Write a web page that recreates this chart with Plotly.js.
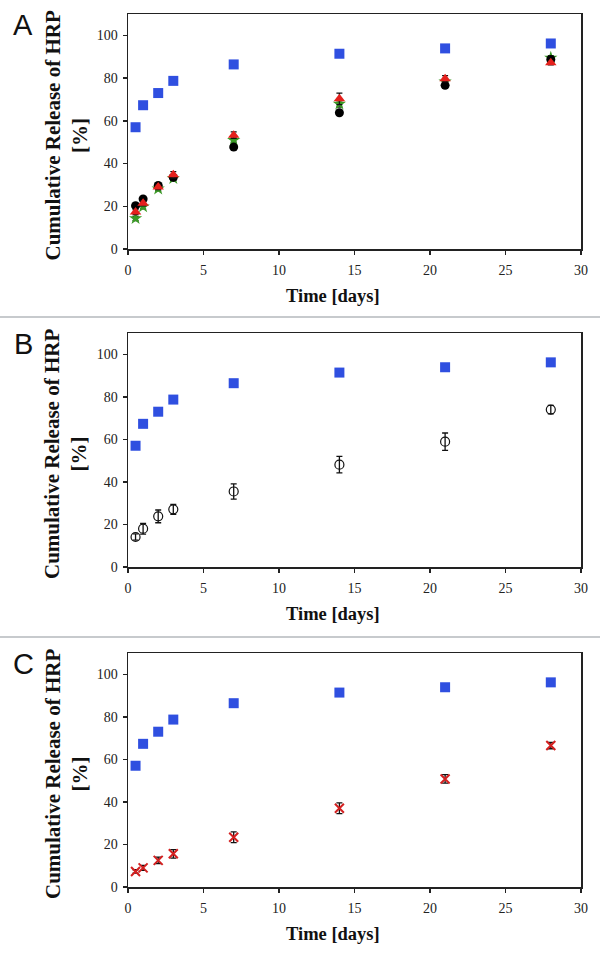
<!DOCTYPE html>
<html><head><meta charset="utf-8">
<script src="https://cdn.plot.ly/plotly-3.0.1.min.js"></script>
<style>html,body{margin:0;padding:0;background:#fff}#chart{width:600px;height:954px}</style>
</head><body><div id="chart"></div>
<script>
// time points (days)
const days = [0.5, 1, 2, 3, 7, 14, 21, 28];
// reference series (blue squares), shown in all panels
const refRelease = [57, 67.3, 73, 78.7, 86.4, 91.4, 93.9, 96.2];
// Panel A series
const aBlack = [20.3, 23.4, 29.7, 33.5, 47.7, 63.8, 76.6, 88.7];
const aBlackErr = [1, 1, 1, 1, 1, 1, 1, 1];
const aGreen = [14.3, 19.8, 28.2, 33.1, 51, 67.9, 78.3, 89.5];
const aGreenErr = [1, 1, 1, 1, 1, 1.5, 1, 1];
const aRed = [17.3, 21.4, 29, 34.7, 53.3, 70.3, 79.7, 87.2];
const aRedErr = [1.2, 1.2, 1.2, 1.5, 1.5, 2.7, 1.5, 1];
// Panel B series
const bOpen = [14.1, 18, 23.8, 27.1, 35.5, 48.1, 58.9, 74];
const bOpenErr = [1.5, 2.5, 3, 2.3, 3.6, 3.9, 4.1, 2];
// Panel C series
const cCross = [7.3, 9, 12.5, 15.6, 23.4, 37, 50.8, 66.5];
const cCrossErr = [0.8, 1.2, 1.5, 2, 2.5, 2.5, 2, 1.5];

const yTicks = [0, 20, 40, 60, 80, 100];
const xTicks = [0, 5, 10, 15, 20, 25, 30];
const panelLabels = ['A', 'B', 'C'];
const yTitle = 'Cumulative Release of HRP<br>[%]';
const xTitle = 'Time [days]';

const blue = '#2f4fe0';
const errBlack = (arr) => ({type: 'data', array: arr, visible: true, color: '#111', thickness: 1.3, width: 3});

function refTrace(ax) {
  return {x: days, y: refRelease, xaxis: 'x' + ax, yaxis: 'y' + ax, mode: 'markers', type: 'scatter',
    marker: {symbol: 'square', size: 10, color: blue}, showlegend: false, hoverinfo: 'x+y'};
}
const traces = [
  refTrace(''),
  {x: days, y: aGreen, error_y: errBlack(aGreenErr), mode: 'markers', type: 'scatter', xaxis: 'x', yaxis: 'y',
    marker: {symbol: 'star', size: 10, color: '#3a9a25'}, showlegend: false},
  {x: days, y: aBlack, error_y: errBlack(aBlackErr), mode: 'markers', type: 'scatter', xaxis: 'x', yaxis: 'y',
    marker: {symbol: 'circle', size: 9, color: '#000'}, showlegend: false},
  {x: days, y: aRed, error_y: errBlack(aRedErr), mode: 'markers', type: 'scatter', xaxis: 'x', yaxis: 'y',
    marker: {symbol: 'triangle-up', size: 10, color: '#e5201c'}, showlegend: false},
  refTrace('2'),
  {x: days, y: bOpen, error_y: errBlack(bOpenErr), mode: 'markers', type: 'scatter', xaxis: 'x2', yaxis: 'y2',
    marker: {symbol: 'circle-open', size: 9, color: '#111', line: {width: 1.2, color: '#111'}}, showlegend: false},
  refTrace('3'),
  {x: days, y: cCross, error_y: errBlack(cCrossErr), mode: 'markers', type: 'scatter', xaxis: 'x3', yaxis: 'y3',
    marker: {symbol: 'x-thin', size: 9, color: '#d42020', line: {width: 2, color: '#d42020'}}, showlegend: false}
];

const W = 600, H = 954;
const xL = 128, xR = 581;
const panels = [{top: 14, bot: 249}, {top: 333, bot: 567}, {top: 653, bot: 887}];
const tickFont = {family: 'Liberation Serif', size: 14, color: '#222'};
const yTitleFont = {family: 'Liberation Serif', size: 21, color: '#111'};
const xTitleFont = {family: 'Liberation Serif', size: 18.5, color: '#111'};

const layout = {
  width: W, height: H, margin: {l: 0, r: 0, t: 0, b: 0},
  paper_bgcolor: '#fff', plot_bgcolor: '#fff', showlegend: false,
  annotations: [], shapes: []
};
panels.forEach((p, i) => {
  const s = i === 0 ? '' : String(i + 1);
  layout['xaxis' + s] = {
    domain: [xL / W, xR / W], range: [0, 30], tickvals: xTicks, ticktext: xTicks.map(String),
    anchor: 'y' + s, showgrid: false, zeroline: false, showline: true, mirror: true,
    linecolor: '#222', linewidth: 1.5, ticks: 'outside', ticklen: 4, tickcolor: '#222', tickwidth: 1.5,
    tickfont: tickFont, ticklabelstandoff: 4, fixedrange: true
  };
  layout['yaxis' + s] = {
    domain: [1 - p.bot / H, 1 - p.top / H], range: [0, 110], tickvals: yTicks, ticktext: yTicks.map(String),
    anchor: 'x' + s, showgrid: false, zeroline: false, showline: true, mirror: true,
    linecolor: '#222', linewidth: 1.5, ticks: 'outside', ticklen: 4, tickcolor: '#222', tickwidth: 1.5,
    tickfont: tickFont, ticklabelstandoff: 2, fixedrange: true
  };
  // y title
  layout.annotations.push({
    xref: 'paper', yref: 'paper', x: 66 / W, y: 1 - ((p.top + p.bot) / 2 + 4) / H,
    xanchor: 'center', yanchor: 'middle', textangle: -90, showarrow: false,
    text: '<b>' + yTitle.replace('<br>', '</b><br><b>') + '</b>', font: yTitleFont
  });
  // x title
  layout.annotations.push({
    xref: 'paper', yref: 'paper', x: 333 / W, y: 1 - (p.bot + 47) / H,
    xanchor: 'center', yanchor: 'middle', showarrow: false,
    text: '<b>' + xTitle + '</b>', font: xTitleFont
  });
  // panel letter
  layout.annotations.push({
    xref: 'paper', yref: 'paper', x: 23 / W, y: 1 - (p.top + 11) / H,
    xanchor: 'center', yanchor: 'middle', showarrow: false,
    text: panelLabels[i], font: {family: 'Liberation Sans', size: 29, color: '#111'}
  });
});
// separators
[317, 637].forEach(py => {
  layout.shapes.push({type: 'line', xref: 'paper', yref: 'paper', x0: 0, x1: 1, y0: 1 - py / H, y1: 1 - py / H,
    line: {color: '#b4b8bc', width: 1.5}});
});

Plotly.newPlot('chart', traces, layout, {displayModeBar: false, staticPlot: true});
</script></body></html>
